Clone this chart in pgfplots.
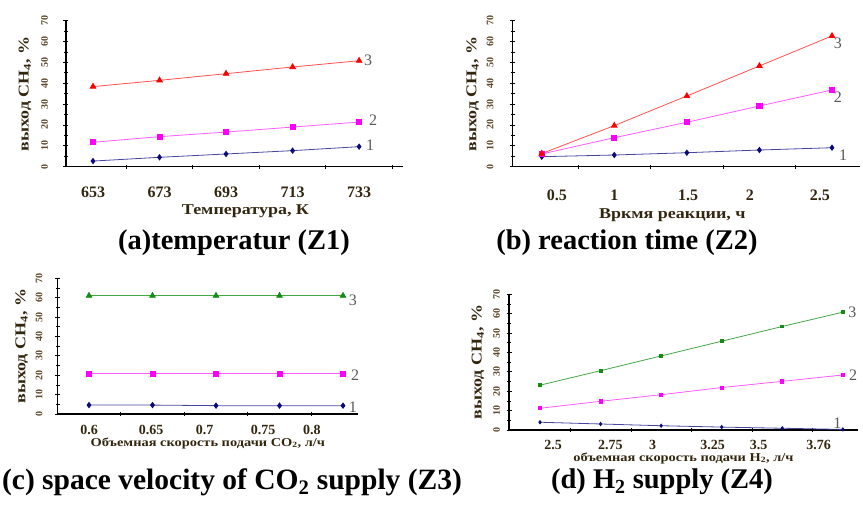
\documentclass[border=0pt]{standalone}
\usepackage{fontspec}
\setmainfont{Liberation Serif}
\newfontfamily\wide[FakeStretch=1.2]{Liberation Serif}
\usepackage{pgfplots}
\pgfplotsset{compat=1.18}

\definecolor{navy}{RGB}{10,10,120}
\definecolor{navyl}{RGB}{70,70,160}
\definecolor{mag}{RGB}{255,0,255}
\definecolor{magl}{RGB}{255,90,255}
\definecolor{myred}{RGB}{255,0,0}
\definecolor{myredl}{RGB}{255,80,80}
\definecolor{mygreen}{RGB}{20,140,20}
\definecolor{mygreenl}{RGB}{70,165,70}
\definecolor{lab}{RGB}{50,38,15}
\definecolor{numc}{RGB}{90,70,40}

\tikzset{serno/.style={font=\fontsize{16}{16}\selectfont, text=black!65, anchor=center}}

\pgfplotsset{
 panel/.style={
  scale only axis,
  axis x line*=bottom, axis y line*=left,
  axis line style={-, line width=1.5pt, black},
  ymin=0, ymax=70, ytick={0,10,...,70}, minor y tick num=1,
  tick align=center, major tick length=5pt, minor tick length=4pt,
  tick style={black, line width=0.7pt},
  major x tick style={draw=none},
  /pgf/number format/assume math mode=true,
  yticklabel style={rotate=90, anchor=center, font=\bfseries\fontsize{10}{10}\selectfont, text=numc},
  xticklabel style={anchor=center, font=\bfseries\fontsize{16}{16}\selectfont, text=lab},
  ylabel={выход CH\textsubscript{4}, \%},
  ylabel style={at={(axis description cs:0,0.5)}, anchor=center, font=\wide\bfseries\fontsize{15}{15}\selectfont, text=lab},
  xlabel style={at={(axis description cs:0.5,0)}, anchor=center, font=\wide\bfseries\fontsize{15}{15}\selectfont, text=lab},
  clip=false,
 },
 s1/.style={navyl, line width=0.8pt, mark=diamond*, mark size=2.6pt, mark options={navy, fill=navy}},
 s2/.style={magl, line width=0.8pt, mark=square*, mark size=2.6pt, mark options={mag, fill=mag}},
 s3/.style={myredl, line width=0.8pt, mark=triangle*, mark size=3.2pt, mark options={myred, fill=myred}},
 s3g/.style={mygreenl, line width=0.8pt, mark=triangle*, mark size=3.2pt, mark options={mygreen, fill=mygreen}},
}

\begin{document}
\begin{tikzpicture}[x=1pt,y=1pt]
\useasboundingbox (0,0) rectangle (863,505);

% (a)
\begin{axis}[panel, at={(66pt,338.3pt)}, anchor=south west, width=337pt, height=146pt,
  xmin=0.594, xmax=5.66, xtick={1,2,3,4,5}, xticklabels={653,673,693,713,733},
  minor xtick={1.5,2.5,3.5,4.5,5.5},
  xticklabel style={yshift=-23pt}, yticklabel style={yshift=19pt},
  xlabel={Температура, К}, xlabel style={yshift=-45pt, xshift=11pt},
  ylabel style={yshift=41pt}]
\addplot[s1] coordinates {(1,2.7)(2,4.5)(3,6.1)(4,7.7)(5,9.6)};
\addplot[s2] coordinates {(1,11.7)(2,14.4)(3,16.6)(4,19.0)(5,21.4)};
\addplot[s3] coordinates {(1,38.4)(2,41.4)(3,44.6)(4,47.8)(5,50.8)};
\node[serno] at (axis cs:5.135,51.2) {3};
\node[serno] at (axis cs:5.21,22.4) {2};
\node[serno] at (axis cs:5.165,10.4) {1};
\end{axis}

% (b)
\begin{axis}[panel, at={(512.7pt,338.3pt)}, anchor=south west, width=347.3pt, height=146pt,
  xmin=0.3, xmax=2.693, xtick={0.605,1.0,1.508,1.935,2.417}, xticklabels={0.5,1,1.5,2,2.5},
  minor xtick={0.75,1.25,1.75,2.25},
  xticklabel style={yshift=-26pt}, yticklabel style={yshift=20pt},
  xlabel={Вркмя реакции, ч}, xlabel style={yshift=-48pt, xshift=-14pt},
  ylabel style={yshift=40pt}]
\addplot[s1] coordinates {(0.5,4.8)(1,5.6)(1.5,6.7)(2,8.0)(2.5,9.1)};
\addplot[s2] coordinates {(0.5,6.1)(1,13.9)(1.5,21.3)(2,29.1)(2.5,36.8)};
\addplot[s3] coordinates {(0.5,6.3)(1,19.7)(1.5,33.9)(2,48.3)(2.5,62.7)};
\node[serno] at (axis cs:2.541,59.3) {3};
\node[serno] at (axis cs:2.541,33.4) {2};
\node[serno] at (axis cs:2.576,5.6) {1};
\end{axis}

% (c)
\begin{axis}[panel, at={(57.7pt,91pt)}, anchor=south west, width=300.3pt, height=135.7pt,
  xmin=0.507, xmax=5.236, xtick={1,1.98,2.82,3.74,4.51}, xticklabels={0.6,0.65,0.7,0.75,0.8},
  minor xtick={1.5,2.5,3.5,4.5},
  xticklabel style={yshift=-13pt, font=\bfseries\fontsize{14}{14}\selectfont},
  yticklabel style={yshift=16pt},
  xlabel={Объемная скорость подачи CO\textsubscript{2}, л/ч},
  xlabel style={yshift=-29pt, font=\wide\bfseries\fontsize{12}{12}\selectfont},
  ylabel style={yshift=36pt}]
\addplot[s1] coordinates {(1,4.6)(2,4.6)(3,4.3)(4,4.3)(5,4.3)};
\addplot[s2] coordinates {(1,20.8)(2,20.8)(3,20.8)(4,20.8)(5,20.8)};
\addplot[s3g] coordinates {(1,61)(2,61)(3,61)(4,61)(5,61)};
\node[serno] at (axis cs:5.157,58.8) {3};
\node[serno] at (axis cs:5.19,20.1) {2};
\node[serno] at (axis cs:5.157,3.6) {1};
\end{axis}

% (d)
\begin{axis}[panel, at={(509pt,75pt)}, anchor=south west, width=349pt, height=135.7pt,
  xmin=0.488, xmax=6.25, xtick={1.215,2.16,2.86,3.85,4.61,5.60},
  xticklabels={2.5,2.75,3,3.25,3.5,3.76},
  minor xtick={1.5,2.5,3.5,4.5,5.5},
  xticklabel style={yshift=-12pt, font=\bfseries\fontsize{14}{14}\selectfont},
  yticklabel style={yshift=10pt},
  xlabel={объемная скорость подачи H\textsubscript{2}, л/ч},
  xlabel style={yshift=-28pt, font=\wide\bfseries\fontsize{12}{12}\selectfont},
  ylabel style={yshift=31pt}]
\addplot[s1, mark size=1.6pt] coordinates {(1,4.0)(2,3.1)(3,2.2)(4,1.5)(5,0.9)(6,0.3)};
\addplot[s2, mark size=1.6pt] coordinates {(1,11.2)(2,14.8)(3,18.2)(4,21.9)(5,25.1)(6,28.4)};
\addplot[mygreenl, line width=0.8pt, mark=square*, mark size=1.4pt, mark options={mygreen, fill=mygreen}] coordinates {(1,23.1)(2,30.6)(3,38.2)(4,45.8)(5,53.4)(6,60.8)};
\node[serno] at (axis cs:6.157,60.9) {3};
\node[serno] at (axis cs:6.17,28.4) {2};
\node[serno] at (axis cs:5.91,3.6) {1};
\end{axis}

% captions
\node[font=\bfseries\fontsize{28.5}{28.5}\selectfont] at (234,262) {(a)temperatur (Z1)};
\node[font=\bfseries\fontsize{28.5}{28.5}\selectfont] at (627,262) {(b) reaction time (Z2)};
\node[font=\bfseries\fontsize{29.5}{29.5}\selectfont] at (232,23) {(c) space velocity of CO\textsubscript{2} supply (Z3)};
\node[font=\bfseries\fontsize{28.5}{28.5}\selectfont] at (662,23) {(d) H\textsubscript{2} supply (Z4)};
\end{tikzpicture}
\end{document}
